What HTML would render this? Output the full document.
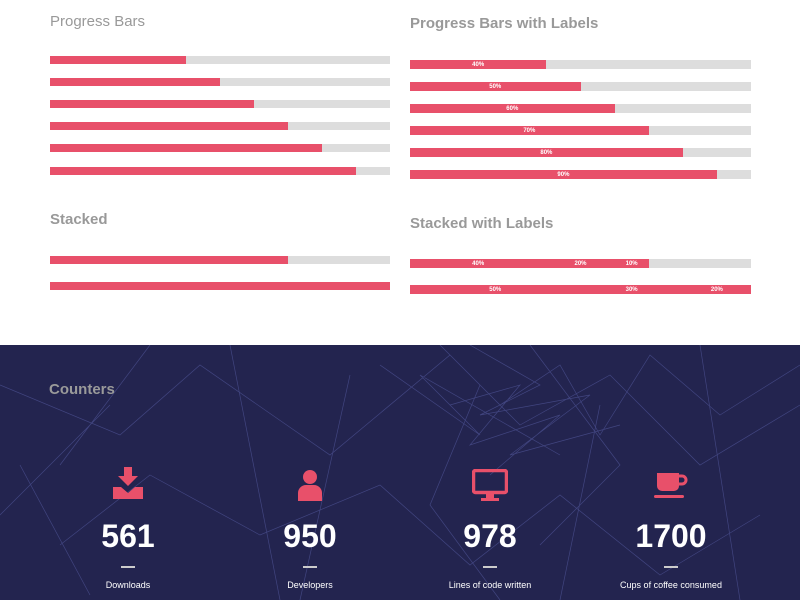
<!DOCTYPE html>
<html><head><meta charset="utf-8"><style>
body{margin:0;width:800px;height:600px;overflow:hidden;background:#fff;font-family:"Liberation Sans",sans-serif;position:relative}
.t{position:absolute;color:#999;font-size:15px}
.b{position:absolute;background:#ddd}
.b i{position:absolute;left:0;top:0;bottom:0;background:#e8506a}
.b s{position:absolute;top:0;height:9px;font-size:6px;color:#fff;text-decoration:none;font-weight:bold;line-height:9px;transform:translateX(-50%)}
#dark{position:absolute;left:0;top:345px;width:800px;height:255px;background:#23244f;overflow:hidden}
.n{position:absolute;width:200px;text-align:center;color:#fff;font-weight:bold;font-size:32px;top:173px}
.d{position:absolute;width:14px;height:2px;background:#ccc;top:221px}
.l{position:absolute;width:200px;text-align:center;color:#fff;font-size:9px;top:235px}
</style></head><body>
<div class="t" style="left:50px;top:13px">Progress Bars</div>
<div class="t" style="left:410px;top:15px;font-weight:bold">Progress Bars with Labels</div>
<div class="t" style="left:50px;top:211px;font-weight:bold">Stacked</div>
<div class="t" style="left:410px;top:215px;font-weight:bold">Stacked with Labels</div>

<div class="b" style="left:50px;top:56px;width:340px;height:8px"><i style="width:40%"></i></div>
<div class="b" style="left:50px;top:78px;width:340px;height:8px"><i style="width:50%"></i></div>
<div class="b" style="left:50px;top:100px;width:340px;height:8px"><i style="width:60%"></i></div>
<div class="b" style="left:50px;top:122px;width:340px;height:8px"><i style="width:70%"></i></div>
<div class="b" style="left:50px;top:144px;width:340px;height:8px"><i style="width:80%"></i></div>
<div class="b" style="left:50px;top:167px;width:340px;height:8px"><i style="width:90%"></i></div>
<div class="b" style="left:50px;top:256px;width:340px;height:8px"><i style="width:70%"></i></div>
<div class="b" style="left:50px;top:282px;width:340px;height:8px"><i style="width:100%"></i></div>

<div class="b" style="left:410px;top:60px;width:341px;height:9px"><i style="width:40%"></i><s style="left:20%;top:1px">40%</s></div>
<div class="b" style="left:410px;top:82px;width:341px;height:9px"><i style="width:50%"></i><s style="left:25%;top:1px">50%</s></div>
<div class="b" style="left:410px;top:104px;width:341px;height:9px"><i style="width:60%"></i><s style="left:30%;top:1px">60%</s></div>
<div class="b" style="left:410px;top:126px;width:341px;height:9px"><i style="width:70%"></i><s style="left:35%;top:1px">70%</s></div>
<div class="b" style="left:410px;top:148px;width:341px;height:9px"><i style="width:80%"></i><s style="left:40%;top:1px">80%</s></div>
<div class="b" style="left:410px;top:170px;width:341px;height:9px"><i style="width:90%"></i><s style="left:45%;top:1px">90%</s></div>
<div class="b" style="left:410px;top:259px;width:341px;height:9px"><i style="width:70%"></i><s style="left:20%;top:1px">40%</s><s style="left:50%;top:1px">20%</s><s style="left:65%;top:1px">10%</s></div>
<div class="b" style="left:410px;top:285px;width:341px;height:9px"><i style="width:100%"></i><s style="left:25%;top:1px">50%</s><s style="left:65%;top:1px">30%</s><s style="left:90%;top:1px">20%</s></div>

<div id="dark">
<svg width="800" height="255" style="position:absolute;left:0;top:0" fill="none" stroke="#5a60a8" stroke-width="0.7" opacity="0.55">
<path d="M0 40L120 90L200 20L330 110L450 10L520 80L610 30L700 120L800 60M60 200L150 130L260 190L380 140L470 220L560 150L660 230L760 170M440 0L500 60L560 20L600 90L650 10L720 70L800 20M20 120L90 250M230 0L280 255M480 40L430 160L500 255M600 60L560 255M700 0L740 255M350 30L300 255M0 170L110 60M150 0L60 120M530 0L620 120L540 200M450 60L520 40L470 100L560 70L490 130M470 0L540 40L480 70L590 50L510 110L620 80M380 20L480 90L420 30L560 110"/>
</svg>
<div style="position:absolute;left:49px;top:36px;color:#9a9a9a;font-weight:bold;font-size:15px">Counters</div>
<svg style="position:absolute;left:113px;top:122px" width="30" height="34"><path d="M11 0h8v9h6l-10 10-10-10h6z" fill="#e8506a"/><path d="M0 20h8l7 6 7-6h8v12H0z" fill="#e8506a"/></svg>
<svg style="position:absolute;left:298px;top:124px" width="24" height="32"><circle cx="12" cy="8" r="7" fill="#e8506a"/><path d="M0 32v-8a8 8 0 0 1 8-8h8a8 8 0 0 1 8 8v8z" fill="#e8506a"/></svg>
<svg style="position:absolute;left:472px;top:124px" width="36" height="34"><rect x="1.5" y="1.5" width="33" height="22" rx="2" fill="none" stroke="#e8506a" stroke-width="3.5"/><rect x="14" y="24" width="8" height="6" fill="#e8506a"/><rect x="9" y="29" width="18" height="3" fill="#e8506a"/></svg>
<svg style="position:absolute;left:654px;top:126px" width="34" height="30"><path d="M3 2h22v13a5 5 0 0 1-5 5H8a5 5 0 0 1-5-5z" fill="#e8506a"/><path d="M25 5h3a4 4 0 0 1 0 8h-3" fill="none" stroke="#e8506a" stroke-width="3"/><rect x="0" y="24" width="30" height="3" rx="1.5" fill="#e8506a"/></svg>
<div class="n" style="left:28px">561</div>
<div class="n" style="left:210px">950</div>
<div class="n" style="left:390px">978</div>
<div class="n" style="left:571px">1700</div>
<div class="d" style="left:121px"></div><div class="d" style="left:303px"></div><div class="d" style="left:483px"></div><div class="d" style="left:664px"></div>
<div class="l" style="left:28px">Downloads</div>
<div class="l" style="left:210px">Developers</div>
<div class="l" style="left:390px">Lines of code written</div>
<div class="l" style="left:571px">Cups of coffee consumed</div>
</div>
</body></html>
